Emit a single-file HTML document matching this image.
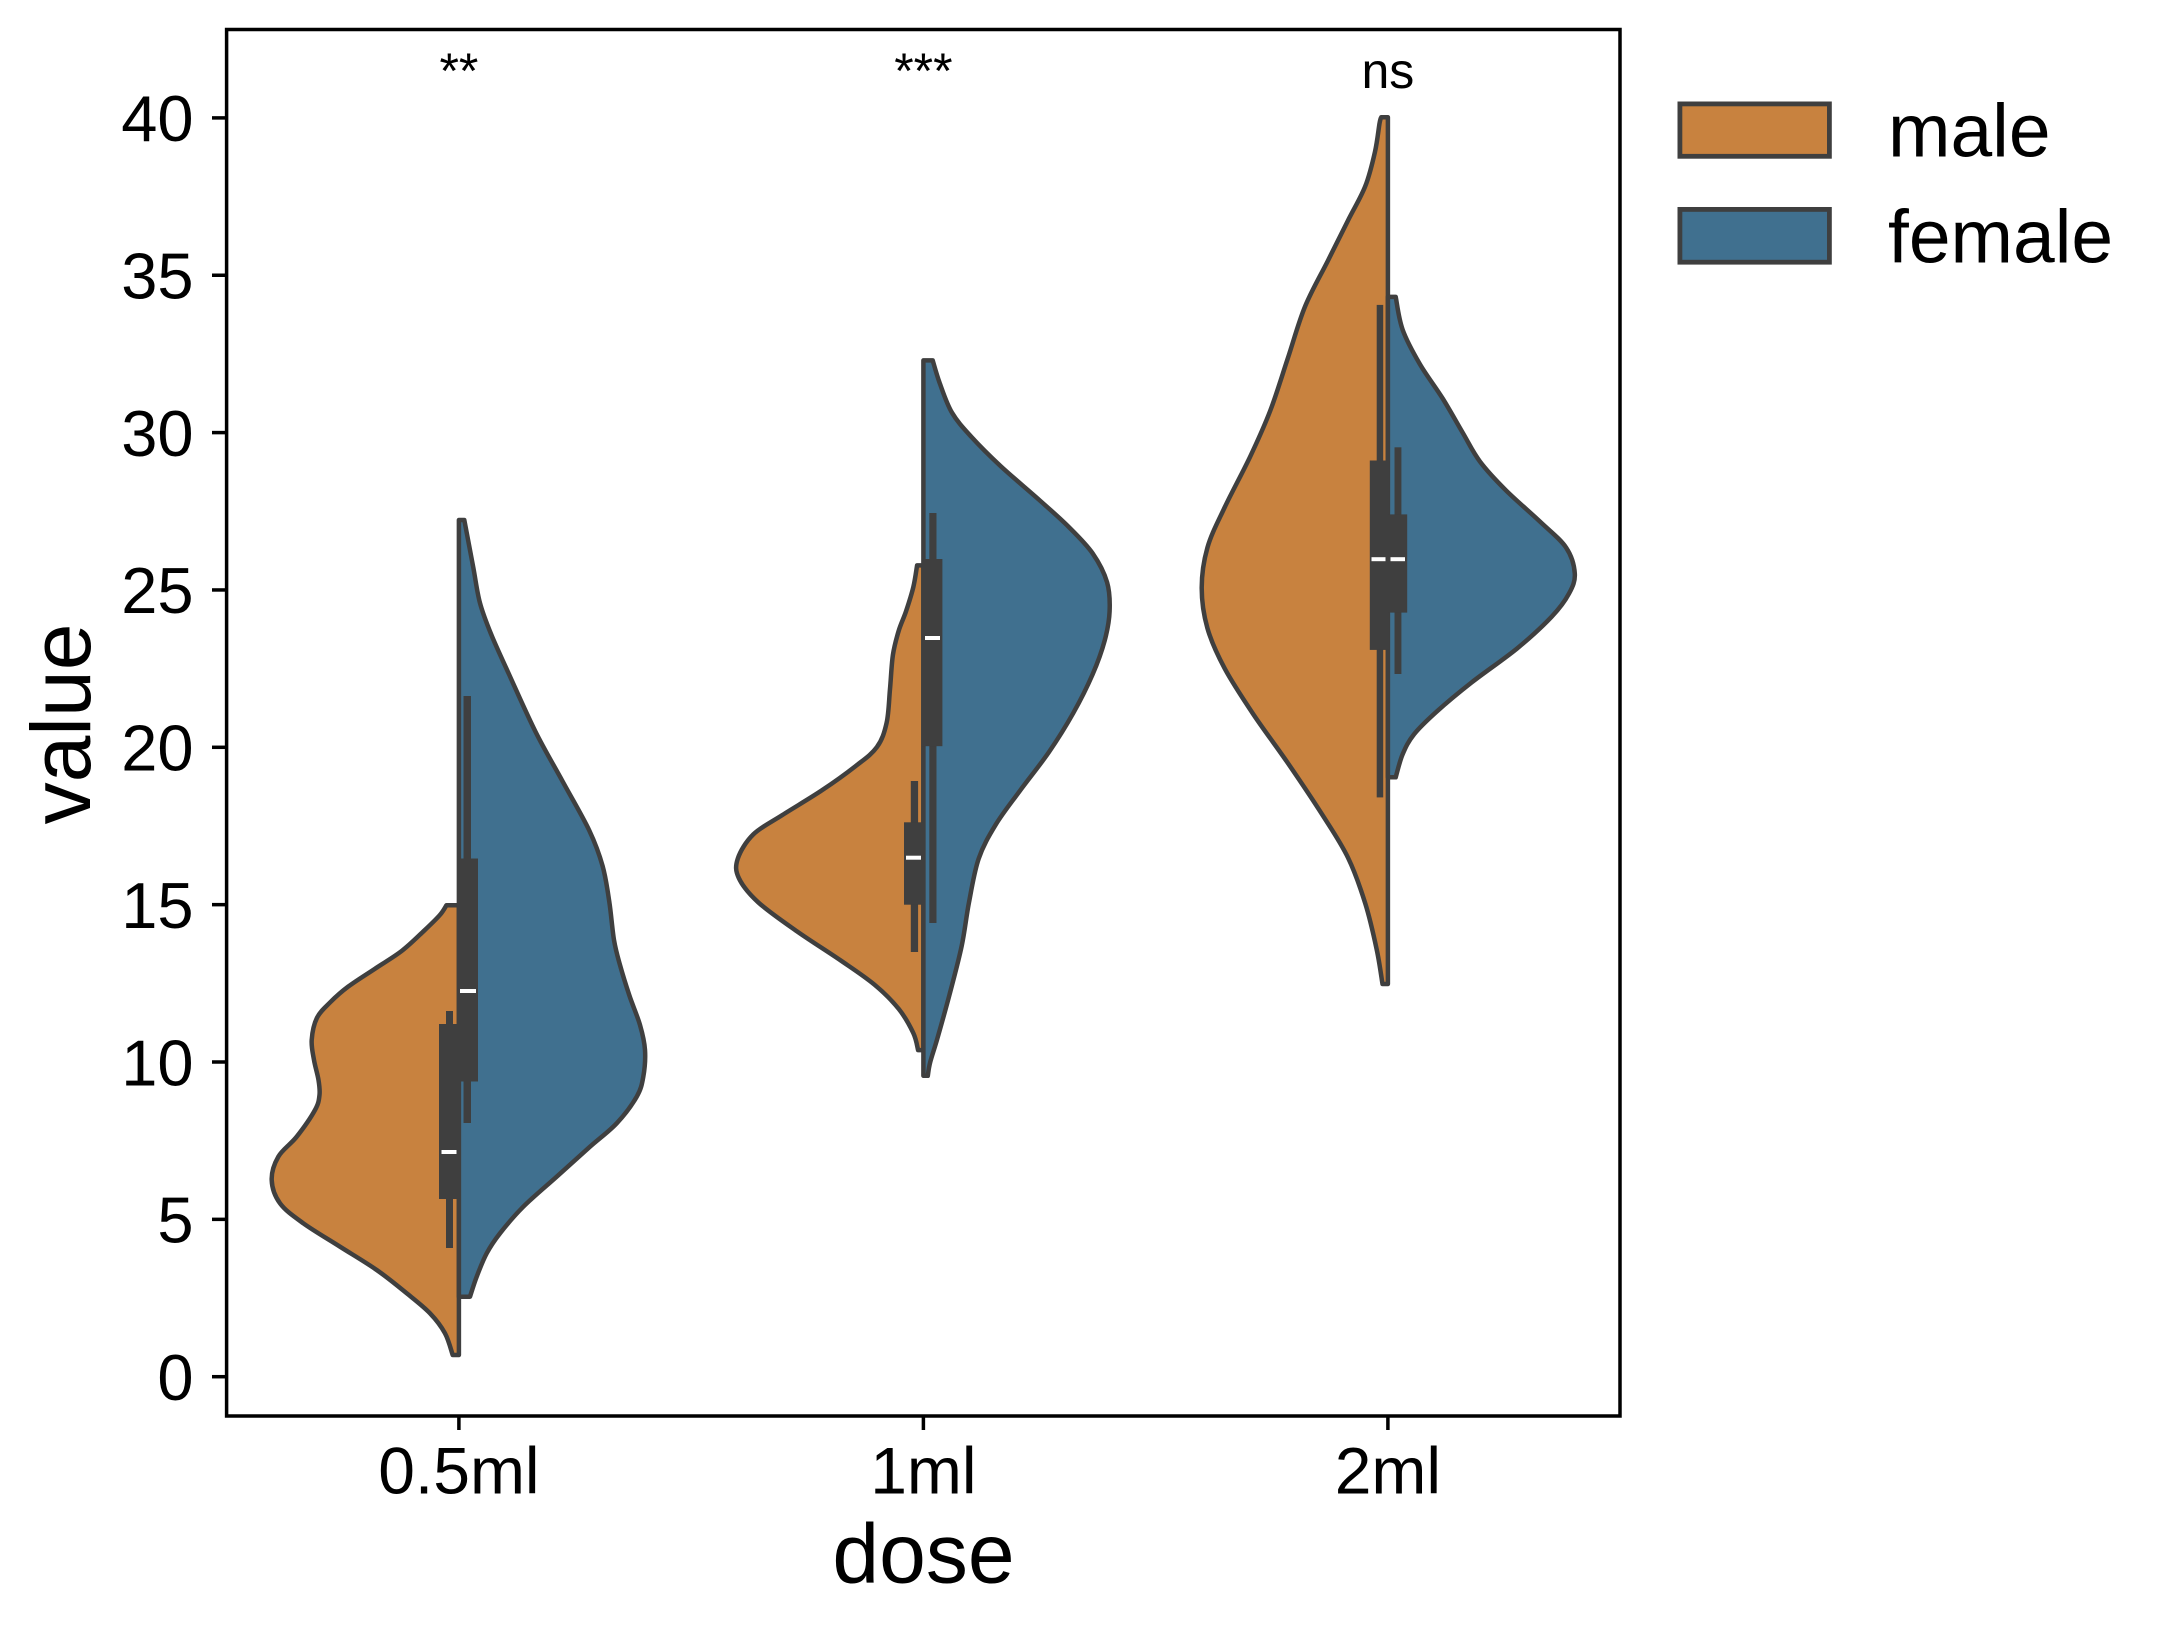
<!DOCTYPE html>
<html>
<head>
<meta charset="utf-8">
<style>
html,body{margin:0;padding:0;background:#ffffff;}
svg{display:block;}
text{font-family:"Liberation Sans",Arial,sans-serif;fill:#000;}
</style>
</head>
<body>
<svg id="chart" width="2174" height="1629" viewBox="0 0 2174 1629" xmlns="http://www.w3.org/2000/svg">
<rect x="0" y="0" width="2174" height="1629" fill="#ffffff"/>

<!-- Violins -->
<g id="violins" stroke="#3f3f3f" stroke-width="4.5" stroke-linejoin="round">
  <!-- 0.5ml male -->
  <polygon class="v" fill="#C8823F" points="458.9,905.3 446.4,905.3 439.7,915.2 424,930.8 401.8,950.9 375,968.7 348.2,986.6 330.3,1002.2 317,1017.8 311.7,1040 314,1060 318.5,1080 319.5,1095 315,1110 296.7,1136.7 278.3,1156.7 271.7,1180 280,1203.3 303.3,1223.3 340,1246.7 376.7,1270 406.7,1293.3 430,1313.3 445,1333.3 452.7,1355 458.9,1355"/>
  <!-- 0.5ml female -->
  <polygon class="v" fill="#40708F" points="458.9,520 464.3,520 473.2,567 479.9,602.7 491,633.9 508.9,674 535.7,732.1 562.5,781.2 589.2,830.3 602.6,866 609.3,901.8 614,940 620,965 629.4,995.5 640,1025 645,1050 643.3,1076.7 636.7,1096.7 616.7,1123.3 590,1146.7 556.7,1176.7 523.3,1206.7 500,1233.3 486.7,1253.3 476.7,1276.7 470,1296.7 458.9,1296.7"/>
  <!-- 1ml male -->
  <polygon class="v" fill="#C8823F" points="923.4,565.4 917.1,565.4 913.3,587.2 906,611.4 898.7,630.8 892.9,655 890,689 886.6,722.9 876.9,747.1 855.1,766.5 821.2,790.8 782.4,815 753.3,834.4 737.8,858.6 738.8,878 758.2,902.3 796.9,931.3 840.6,960.4 874.5,984.7 898.7,1008.9 913.3,1033.1 918.1,1050.1 923.4,1050.1"/>
  <!-- 1ml female -->
  <polygon class="v" fill="#40708F" points="923.4,360.4 932.7,360.4 939.9,383.6 952,412.7 971.4,436.9 1000.5,466 1039.3,500 1068.4,526.6 1092.6,553.3 1107.1,582.4 1109.6,611.4 1104.7,640.5 1092.6,674.4 1073.2,713.2 1049,752 1019.9,790.8 995.7,824.7 978.7,858.6 969,902.3 961.7,945.9 949.6,994.3 937.5,1038 930.2,1062.2 927.8,1075.8 923.4,1075.8"/>
  <!-- 2ml male -->
  <polygon class="v" fill="#C8823F" points="1387.9,117.2 1381.3,117.2 1379.6,123 1375,151.7 1365.3,186.1 1348,220.5 1327.9,260.7 1305,306.6 1287.8,358.3 1270.5,410 1250.5,455.9 1224.6,507.5 1207.4,547.7 1201.7,587.9 1207.4,628.1 1224.6,668.3 1253.3,714.2 1287.8,763 1322.2,814.6 1348,857.7 1365.3,903.6 1376.7,949.5 1382.5,984 1387.9,984"/>
  <!-- 2ml female -->
  <polygon class="v" fill="#40708F" points="1387.9,296.9 1395.7,296.9 1402.6,329.6 1419.8,364 1442.7,398.5 1462.8,432.9 1480,461.6 1505.9,490.3 1540.3,521.9 1566.2,547.7 1574.8,573.6 1569,593.6 1551.8,616.6 1517.4,648.2 1471.4,682.6 1437,711.3 1414,734.3 1402.6,754.4 1395.7,777.3 1387.9,777.3"/>
</g>

<!-- Inner boxes -->
<g fill="#3f3f3f">
  <!-- 0.5ml -->
  <rect x="446" y="1011" width="7" height="237"/>
  <rect x="439" y="1024" width="20.5" height="175"/>
  <rect x="463.5" y="696" width="7.5" height="427"/>
  <rect x="457" y="858.5" width="21" height="223"/>
  <!-- 1ml -->
  <rect x="910.8" y="781" width="7.3" height="171"/>
  <rect x="904" y="822.3" width="19.5" height="82.4"/>
  <rect x="929.3" y="513" width="7.2" height="410"/>
  <rect x="922" y="559" width="20.4" height="187.2"/>
  <!-- 2ml -->
  <rect x="1376.7" y="304.9" width="6.5" height="492.5"/>
  <rect x="1369.8" y="460.5" width="19.6" height="189.4"/>
  <rect x="1394.5" y="447.3" width="6.9" height="226.7"/>
  <rect x="1388.2" y="514.4" width="19" height="98.2"/>
</g>
<g fill="#ffffff">
  <rect x="441.5" y="1150" width="15" height="4"/>
  <rect x="460" y="989" width="16" height="4"/>
  <rect x="906" y="855.7" width="15" height="4"/>
  <rect x="925" y="636" width="15" height="4"/>
  <rect x="1371.5" y="557.2" width="14" height="4"/>
  <rect x="1390.5" y="557.2" width="14.5" height="4"/>
</g>

<!-- Axes frame -->
<rect x="226.6" y="29.5" width="1393.4" height="1386.5" fill="none" stroke="#000" stroke-width="3.5"/>

<!-- Y ticks -->
<g stroke="#000" stroke-width="3.5">
  <line x1="212" y1="1376.7" x2="226.6" y2="1376.7"/>
  <line x1="212" y1="1219.35" x2="226.6" y2="1219.35"/>
  <line x1="212" y1="1062" x2="226.6" y2="1062"/>
  <line x1="212" y1="904.65" x2="226.6" y2="904.65"/>
  <line x1="212" y1="747.3" x2="226.6" y2="747.3"/>
  <line x1="212" y1="589.95" x2="226.6" y2="589.95"/>
  <line x1="212" y1="432.6" x2="226.6" y2="432.6"/>
  <line x1="212" y1="275.25" x2="226.6" y2="275.25"/>
  <line x1="212" y1="117.9" x2="226.6" y2="117.9"/>
  <!-- X ticks -->
  <line x1="458.9" y1="1416" x2="458.9" y2="1430"/>
  <line x1="923.4" y1="1416" x2="923.4" y2="1430"/>
  <line x1="1387.9" y1="1416" x2="1387.9" y2="1430"/>
</g>

<!-- Y tick labels -->
<g font-size="65" text-anchor="end">
  <text x="193.5" y="1400">0</text>
  <text x="193.5" y="1242.6">5</text>
  <text x="193.5" y="1085.3">10</text>
  <text x="193.5" y="927.9">15</text>
  <text x="193.5" y="770.6">20</text>
  <text x="193.5" y="613.2">25</text>
  <text x="193.5" y="455.9">30</text>
  <text x="193.5" y="298.5">35</text>
  <text x="193.5" y="141.2">40</text>
</g>

<!-- X tick labels -->
<g font-size="66" text-anchor="middle">
  <text x="458.9" y="1493.3">0.5ml</text>
  <text x="923.4" y="1493.3">1ml</text>
  <text x="1387.9" y="1493.3">2ml</text>
</g>

<!-- Axis labels -->
<text x="923.5" y="1582.7" font-size="84" text-anchor="middle">dose</text>
<text transform="translate(90,724) rotate(-90)" x="0" y="0" font-size="84" text-anchor="middle">value</text>

<!-- Annotations -->
<g font-size="50" text-anchor="middle">
  <text x="458.9" y="88">**</text>
  <text x="923.4" y="88">***</text>
  <text x="1387.9" y="88">ns</text>
</g>

<!-- Legend -->
<rect x="1679.9" y="103.9" width="149.5" height="52.4" fill="#C8823F" stroke="#3f3f3f" stroke-width="4.8"/>
<rect x="1679.9" y="209.4" width="149.5" height="52.8" fill="#40708F" stroke="#3f3f3f" stroke-width="4.8"/>
<text x="1888" y="156.7" font-size="75">male</text>
<text x="1888" y="262.3" font-size="75">female</text>
</svg>
<script>
(function(){
  try{
    var NS="http://www.w3.org/2000/svg";
    var polys=document.querySelectorAll("polygon.v");
    for(var k=0;k<polys.length;k++){
      var pg=polys[k];
      var raw=pg.getAttribute("points").trim().split(/\s+/);
      var P=raw.map(function(s){var a=s.split(",");return [parseFloat(a[0]),parseFloat(a[1])];});
      var n=P.length;
      // curve points: P[1] .. P[n-2]
      var C=P.slice(1,n-1);
      var m=C.length;
      var d="M"+P[0][0]+","+P[0][1]+" L"+C[0][0]+","+C[0][1];
      for(var i=0;i<m-1;i++){
        var p0=C[i>0?i-1:i], p1=C[i], p2=C[i+1], p3=C[i+2<m?i+2:i+1];
        var c1x=p1[0]+(p2[0]-p0[0])/6, c1y=p1[1]+(p2[1]-p0[1])/6;
        var c2x=p2[0]-(p3[0]-p1[0])/6, c2y=p2[1]-(p3[1]-p1[1])/6;
        d+=" C"+c1x.toFixed(2)+","+c1y.toFixed(2)+" "+c2x.toFixed(2)+","+c2y.toFixed(2)+" "+p2[0]+","+p2[1];
      }
      d+=" L"+P[n-1][0]+","+P[n-1][1]+" Z";
      var path=document.createElementNS(NS,"path");
      path.setAttribute("d",d);
      path.setAttribute("fill",pg.getAttribute("fill"));
      pg.parentNode.replaceChild(path,pg);
    }
  }catch(e){}
})();
</script>
</body>
</html>
